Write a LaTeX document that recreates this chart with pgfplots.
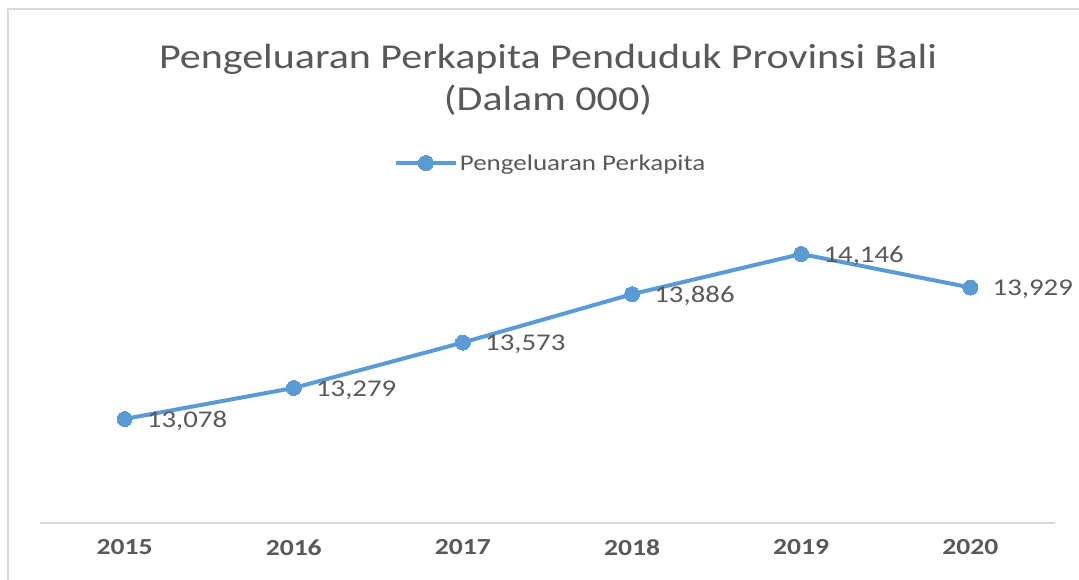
\documentclass[border=0pt]{standalone}
\usepackage{pgfplots}
\pgfplotsset{compat=1.18}
\usepackage{fontspec}
\setmainfont[FakeStretch=1.2]{Carlito}
\definecolor{lineblue}{HTML}{5B9BD5}
\definecolor{txtgrey}{HTML}{595959}
\definecolor{framegrey}{HTML}{D9D9D9}
\begin{document}
\begin{tikzpicture}[x=1pt,y=1pt]
\useasboundingbox (0,0) rectangle (1079,580);
\fill[white] (0,0) rectangle (1079,580);
% chart frame
\draw[framegrey, line width=2.5pt] (8,-5) -- (8,571) -- (1090,571);
% title
\node[txtgrey, font=\fontsize{35}{42}\selectfont, align=center] at (548,500) {Pengeluaran Perkapita Penduduk Provinsi Bali\\(Dalam 000)};
\begin{axis}[
    at={(40pt,57pt)}, anchor=south west,
    scale only axis,
    width=1015pt, height=322pt,
    xmin=-0.5, xmax=5.5,
    ymin=12405, ymax=14489,
    axis x line=bottom,
    axis y line=none,
    x axis line style={framegrey, line width=1.5pt, -},
    xtick=data,
    xticklabels={2015,2016,2017,2018,2019,2020},
    major tick length=0pt,
    xticklabel style={txtgrey, font=\fontsize{23}{26}\selectfont\bfseries, yshift=-13pt},
    clip=false,
    legend style={at={(0.503,1.118)}, anchor=center, draw=none, fill=none,
        font=\fontsize{22.5}{26}\selectfont, text=txtgrey,
        /tikz/every even column/.append style={column sep=0pt}},
    legend cell align=left,
    legend image code/.code={
        \draw[#1, mark repeat=2, mark phase=2] plot coordinates {(0pt,0pt) (30pt,0pt) (60pt,0pt)};
    },
]
\addplot[lineblue, line width=4pt, mark=*, mark size=7.5pt,
    mark options={fill=lineblue, draw=lineblue, line width=0pt},
    point meta=explicit symbolic,
    nodes near coords,
    nodes near coords style={anchor=west, xshift=19pt, yshift=-2pt, text=txtgrey,
        font=\fontsize{24}{28}\selectfont}]
coordinates {
    (0,13078) [13,078]
    (1,13279) [13,279]
    (2,13573) [13,573]
    (3,13886) [13,886]
    (4,14146) [14,146]
    (5,13929) [13,929]
};
\addlegendentry{Pengeluaran Perkapita}
\end{axis}
\end{tikzpicture}
\end{document}
